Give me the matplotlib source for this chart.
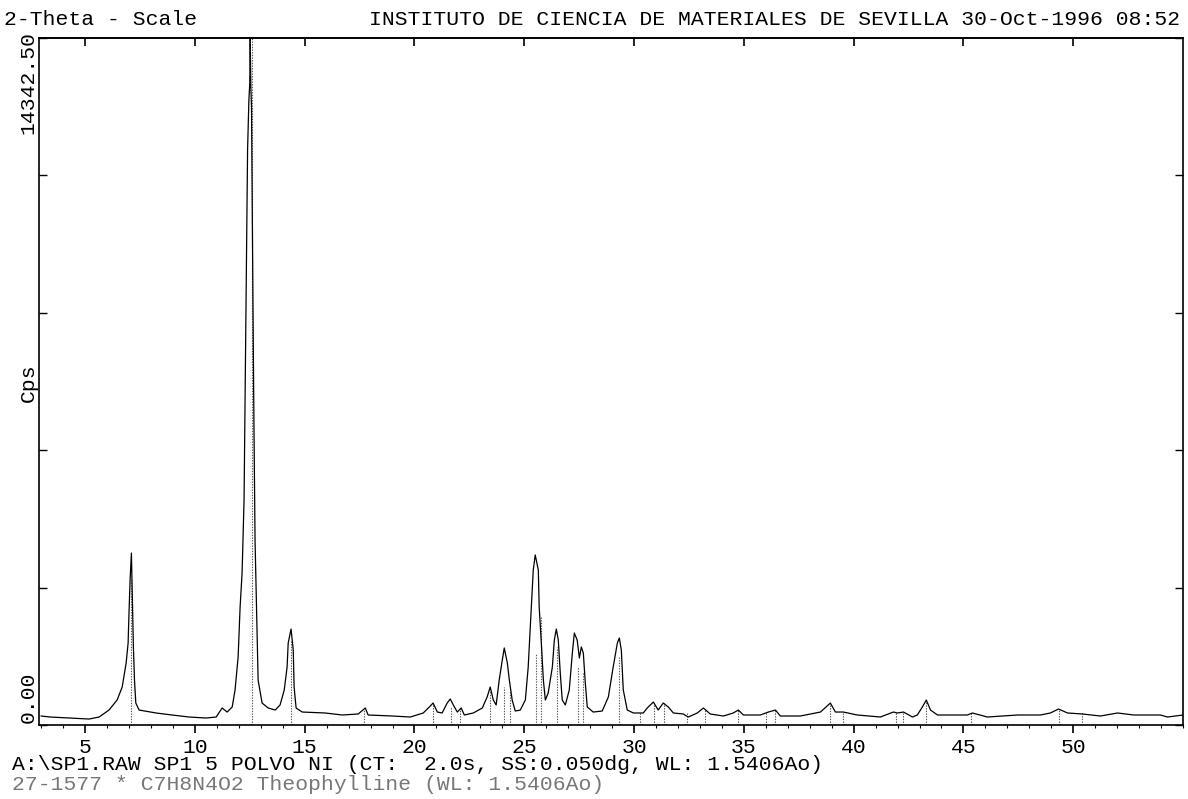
import numpy as np
import matplotlib
matplotlib.use("Agg")
import matplotlib.pyplot as plt
from matplotlib.ticker import MultipleLocator

plt.rcParams['font.family'] = ['Liberation Mono', 'DejaVu Sans Mono']

two_theta = [
    3.00, 3.41, 4.32, 5.18, 5.64, 6.09, 6.46, 6.69, 6.87, 6.96, 7.00, 7.05, 7.11, 7.15,
    7.20, 7.25, 7.31, 7.46, 8.23, 8.96, 9.74, 10.51, 10.97, 11.24, 11.47, 11.70, 11.83,
    11.97, 12.06, 12.15, 12.24, 12.33, 12.40, 12.46, 12.50, 12.52, 12.55, 12.58, 12.61,
    12.68, 12.74, 12.84, 12.88, 13.06, 13.34, 13.66, 13.88, 14.07, 14.20, 14.25, 14.38,
    14.48, 14.52, 14.61, 14.89, 15.93, 16.71, 17.44, 17.76, 17.89, 18.99, 19.81, 20.40,
    20.63, 20.85, 21.04, 21.26, 21.49, 21.63, 21.77, 21.95, 22.13, 22.27, 22.68, 23.09,
    23.31, 23.45, 23.59, 23.72, 23.86, 24.00, 24.09, 24.23, 24.32, 24.45, 24.59, 24.82,
    25.05, 25.18, 25.32, 25.41, 25.50, 25.64, 25.68, 25.77, 25.87, 25.96, 26.09, 26.28,
    26.37, 26.46, 26.55, 26.64, 26.73, 26.87, 27.05, 27.19, 27.28, 27.41, 27.51, 27.60,
    27.69, 27.78, 27.87, 28.14, 28.55, 28.83, 29.05, 29.24, 29.33, 29.42, 29.51, 29.69,
    29.97, 30.42, 30.60, 30.88, 31.10, 31.33, 31.56, 31.79, 32.24, 32.47, 32.88, 33.16,
    33.47, 34.07, 34.52, 34.75, 34.98, 35.75, 36.12, 36.44, 36.66, 37.57, 38.49, 38.94,
    39.17, 39.53, 40.17, 41.22, 41.81, 41.99, 42.27, 42.68, 42.90, 43.13, 43.31, 43.50,
    43.82, 45.18, 45.41, 46.09, 47.46, 48.51, 48.96, 49.33, 49.74, 50.42, 51.24, 52.02,
    52.75, 53.97, 54.29, 55.00,
]
cps = [
    188, 167, 146, 125, 167, 313, 522, 793, 1295, 1712, 2339, 3028, 3591, 2673,
    1629, 940, 459, 313, 251, 209, 167, 146, 167, 355, 271, 376, 731,
    1420, 2464, 3174, 4698, 8874, 12006, 13050, 13400, 14342, 13300, 12900, 10962,
    6786, 3863, 1775, 940, 459, 355, 313, 418, 731, 1211, 1712, 2004,
    1566, 793, 355, 271, 251, 209, 230, 355, 209, 188, 167, 251,
    355, 459, 271, 251, 459, 543, 418, 271, 355, 209, 251, 355,
    585, 793, 522, 418, 940, 1357, 1608, 1295, 940, 522, 292, 313,
    522, 1211, 2464, 3236, 3550, 3236, 2464, 1775, 940, 522, 668, 1211,
    1775, 2004, 1775, 1086, 522, 418, 731, 1503, 1921, 1775, 1399, 1629,
    1503, 877, 376, 271, 292, 585, 1211, 1712, 1817, 1566, 731, 313,
    251, 251, 355, 480, 313, 459, 376, 251, 230, 167, 251, 355,
    230, 188, 251, 313, 209, 209, 271, 313, 188, 188, 271, 459,
    271, 271, 209, 167, 271, 251, 271, 167, 209, 376, 522, 313,
    209, 209, 251, 167, 209, 209, 251, 334, 251, 230, 188, 251,
    209, 209, 167, 209,
]

# reference card 27-1577 Theophylline, stick positions and heights
card_theta = [7.10, 12.61, 14.38, 17.71, 20.85, 21.67, 22.08, 23.45, 24.09, 24.36,
              25.55, 25.77, 26.50, 27.46, 27.69, 29.33, 30.28, 30.92, 31.38, 32.43,
              33.25, 34.75, 36.02, 36.44, 38.94, 39.53, 41.95, 42.27, 43.31, 45.36,
              49.33, 50.42]
card_cps = [3028, 14342, 1775, 313, 459, 376, 355, 731, 793, 731,
            1503, 2255, 1629, 1211, 1086, 1420, 271, 459, 459, 251,
            313, 313, 271, 313, 459, 271, 251, 271, 480, 251,
            313, 251]

y_max = 14342.5
x_major = [5, 10, 15, 20, 25, 30, 35, 40, 45, 50]
FS = 15.4


def main():
    fig = plt.figure(figsize=(11.88, 7.99), dpi=100)
    ax = fig.add_axes([0.0328, 0.0926, 0.9630, 0.8598])

    ax.vlines(card_theta, 0, card_cps, colors='#555555', linewidth=0.8,
              linestyles=(0, (1.2, 1.2)))
    ax.plot(two_theta, cps, color='black', linewidth=0.9)

    ax.set_xlim(2.9, 55.0)
    ax.set_ylim(0, y_max)

    ax.set_xticks(x_major)
    ax.set_xticklabels([str(v) for v in x_major], fontsize=FS)
    ax.xaxis.set_minor_locator(MultipleLocator(1))
    ax.tick_params(axis='x', which='major', direction='out', length=6, width=1.2,
                   pad=3, top=False)
    ax.tick_params(axis='x', which='minor', direction='out', length=2.5, width=0.8)
    ax.set_yticks(np.linspace(0, y_max, 6))
    ax.set_yticklabels([])
    ax.tick_params(axis='y', direction='in', length=6, width=1, left=True, right=True)

    # top axis gets only the major ticks, pointing in
    top = ax.secondary_xaxis('top')
    top.set_xticks(x_major)
    top.set_xticklabels([])
    top.tick_params(direction='in', length=6, width=1.2)
    top.spines['top'].set_linewidth(1.2)

    for s in ax.spines.values():
        s.set_linewidth(1.2)

    # header and footer lines
    fig.text(4 / 1188, 1 - 25 / 799, '2-Theta - Scale', fontsize=FS, va='baseline')
    fig.text(1180 / 1188, 1 - 25 / 799,
             'INSTITUTO DE CIENCIA DE MATERIALES DE SEVILLA 30-Oct-1996 08:52',
             fontsize=FS, va='baseline', ha='right')
    fig.text(12 / 1188, 1 - 770 / 799,
             'A:\\SP1.RAW SP1 5 POLVO NI (CT:  2.0s, SS:0.050dg, WL: 1.5406Ao)',
             fontsize=FS, va='baseline')
    fig.text(12 / 1188, 1 - 790 / 799,
             '27-1577 * C7H8N4O2 Theophylline (WL: 1.5406Ao)',
             fontsize=FS, va='baseline', color='#777777')

    # y labels at the ends of the scale
    fig.text(28 / 1188, 1 - 82 / 799, '14342.50', fontsize=FS, rotation=90,
             ha='center', va='center')
    fig.text(28 / 1188, 1 - 383 / 799, 'Cps', fontsize=FS, rotation=90,
             ha='center', va='center')
    fig.text(28 / 1188, 1 - 697 / 799, '0.00', fontsize=FS, rotation=90,
             ha='center', va='center')

    fig.savefig('out.png', dpi=100)
    plt.close(fig)


if __name__ == "__main__":
    main()
